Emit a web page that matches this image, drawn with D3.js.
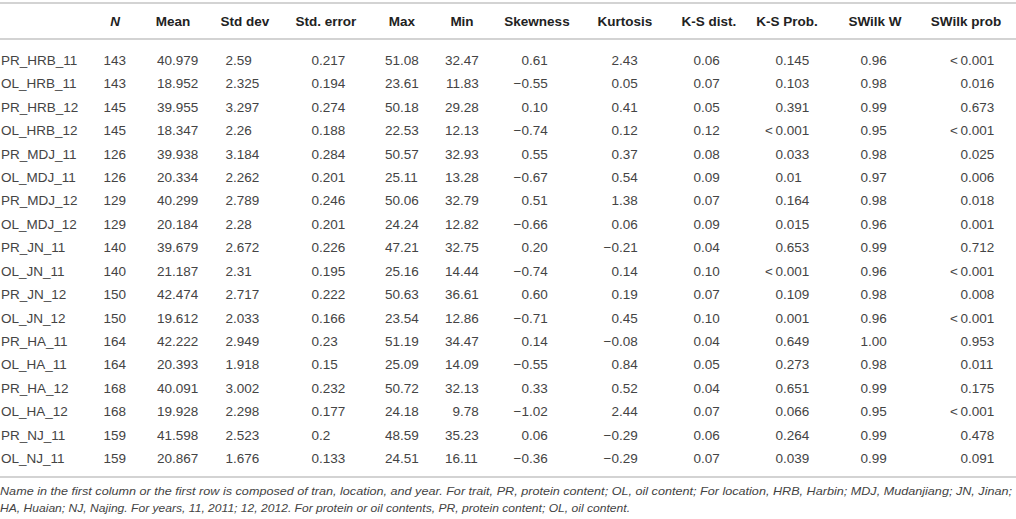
<!DOCTYPE html>
<html>
<head>
<meta charset="utf-8">
<script src="https://cdn.jsdelivr.net/npm/d3@7"></script>
<style>
  html, body { margin: 0; padding: 0; background: #fff; }
  svg { display: block; font-family: "Liberation Sans", Arial, Helvetica, sans-serif; }
</style>
</head>
<body>
<div id="chart"></div>
<script>
const MINUS = '\u2212';
const LT = '<\u20090';

const names = ['PR_HRB_11', 'OL_HRB_11', 'PR_HRB_12', 'OL_HRB_12', 'PR_MDJ_11', 'OL_MDJ_11',
  'PR_MDJ_12', 'OL_MDJ_12', 'PR_JN_11', 'OL_JN_11', 'PR_JN_12', 'OL_JN_12',
  'PR_HA_11', 'OL_HA_11', 'PR_HA_12', 'OL_HA_12', 'PR_NJ_11', 'OL_NJ_11'];

const headers = ['N', 'Mean', 'Std dev', 'Std. error', 'Max', 'Min', 'Skewness',
  'Kurtosis', 'K-S dist.', 'K-S Prob.', 'SWilk W', 'SWilk prob'];

const nObs = ['143', '143', '145', '145', '126', '126', '129', '129', '140', '140',
  '150', '150', '164', '164', '168', '168', '159', '159'];
const mean = ['40.979', '18.952', '39.955', '18.347', '39.938', '20.334', '40.299', '20.184',
  '39.679', '21.187', '42.474', '19.612', '42.222', '20.393', '40.091', '19.928', '41.598', '20.867'];
const stdDev = ['2.59', '2.325', '3.297', '2.26', '3.184', '2.262', '2.789', '2.28', '2.672',
  '2.31', '2.717', '2.033', '2.949', '1.918', '3.002', '2.298', '2.523', '1.676'];
const stdErr = ['0.217', '0.194', '0.274', '0.188', '0.284', '0.201', '0.246', '0.201', '0.226',
  '0.195', '0.222', '0.166', '0.23', '0.15', '0.232', '0.177', '0.2', '0.133'];
const maxVal = ['51.08', '23.61', '50.18', '22.53', '50.57', '25.11', '50.06', '24.24', '47.21',
  '25.16', '50.63', '23.54', '51.19', '25.09', '50.72', '24.18', '48.59', '24.51'];
const minVal = ['32.47', '11.83', '29.28', '12.13', '32.93', '13.28', '32.79', '12.82', '32.75',
  '14.44', '36.61', '12.86', '34.47', '14.09', '32.13', '9.78', '35.23', '16.11'];
const skewness = ['0.61', '-0.55', '0.10', '-0.74', '0.55', '-0.67', '0.51', '-0.66', '0.20',
  '-0.74', '0.60', '-0.71', '0.14', '-0.55', '0.33', '-1.02', '0.06', '-0.36'];
const kurtosis = ['2.43', '0.05', '0.41', '0.12', '0.37', '0.54', '1.38', '0.06', '-0.21',
  '0.14', '0.19', '0.45', '-0.08', '0.84', '0.52', '2.44', '-0.29', '-0.29'];
const ksDist = ['0.06', '0.07', '0.05', '0.12', '0.08', '0.09', '0.07', '0.09', '0.04',
  '0.10', '0.07', '0.10', '0.04', '0.05', '0.04', '0.07', '0.06', '0.07'];
const ksProb = ['0.145', '0.103', '0.391', '<0.001', '0.033', '0.01', '0.164', '0.015', '0.653',
  '<0.001', '0.109', '0.001', '0.649', '0.273', '0.651', '0.066', '0.264', '0.039'];
const swilkW = ['0.96', '0.98', '0.99', '0.95', '0.98', '0.97', '0.98', '0.96', '0.99',
  '0.96', '0.98', '0.96', '1.00', '0.98', '0.99', '0.95', '0.99', '0.99'];
const swilkProb = ['<0.001', '0.016', '0.673', '<0.001', '0.025', '0.006', '0.018', '0.001', '0.712',
  '<0.001', '0.008', '<0.001', '0.953', '0.011', '0.175', '<0.001', '0.478', '0.091'];

const captionLines = [
  'Name in the first column or the first row is composed of tran, location, and year. For trait, PR, protein content; OL, oil content; For location, HRB, Harbin; MDJ, Mudanjiang; JN, Jinan;',
  'HA, Huaian; NJ, Najing. For years, 11, 2011; 12, 2012. For protein or oil contents, PR, protein content; OL, oil content.'
];

const columns = [nObs, mean, stdDev, stdErr, maxVal, minVal, skewness, kurtosis,
  ksDist, ksProb, swilkW, swilkProb];

const width = 1016;
const height = 519;

// fix minus signs and the "<" prefix for display
const fmt = (s) => s.replace('-', MINUS).replace('<0', LT);

const svg = d3.select('#chart')
  .append('svg')
  .attr('width', width)
  .attr('height', height);

// column decimal-point positions, header centres
const xDec = d3.scaleOrdinal()
  .domain(headers)
  .range([126, 172, 233, 319, 400, 460, 529, 619, 701, 783, 868, 968]);
const xHead = d3.scaleOrdinal()
  .domain(headers)
  .range([115, 173, 245, 326, 402, 462, 537, 625, 709, 787, 875, 966]);

const y = d3.scalePoint()
  .domain(names)
  .range([60, 458]);

const ruleColor = '#c4c4c4';
[3, 39, 477].forEach((ly) => {
  svg.append('line')
    .attr('x1', 0)
    .attr('x2', width)
    .attr('y1', ly)
    .attr('y2', ly)
    .attr('stroke', ruleColor)
    .attr('stroke-width', 1.6);
});

// header
svg.append('g')
  .selectAll('text')
  .data(headers)
  .enter()
  .append('text')
  .text((d) => d)
  .attr('x', (d) => xHead(d))
  .attr('y', 26)
  .attr('text-anchor', 'middle')
  .attr('font-weight', 'bold')
  .attr('font-style', (d) => (d === 'N' ? 'italic' : 'normal'))
  .style('font-size', '13.5px')
  .attr('fill', '#222');

// row names
svg.append('g')
  .selectAll('text')
  .data(names)
  .enter()
  .append('text')
  .text((d) => d)
  .attr('x', 1)
  .attr('y', (d) => y(d) + 5)
  .style('font-size', '13.5px')
  .attr('fill', '#444');

// cells, aligned on the decimal point
const cells = [];
columns.forEach((col, ci) => {
  col.forEach((v, ri) => {
    cells.push({ head: headers[ci], name: names[ri], text: fmt(v) });
  });
});

svg.append('g')
  .selectAll('text')
  .data(cells)
  .enter()
  .append('text')
  .text((d) => d.text)
  .attr('y', (d) => y(d.name) + 5)
  .style('font-size', '13.5px')
  .attr('fill', '#444')
  .each(function (d) {
    const dot = d.text.indexOf('.');
    const idx = dot < 0 ? d.text.length : dot;
    const w = idx > 0 ? this.getSubStringLength(0, idx) : 0;
    d3.select(this).attr('x', xDec(d.head) - w);
  });

// caption
svg.append('g')
  .selectAll('text')
  .data(captionLines)
  .enter()
  .append('text')
  .text((d) => d)
  .attr('x', 0)
  .attr('y', (d, i) => 495 + i * 17)
  .attr('font-style', 'italic')
  .style('font-size', '11.5px')
  .attr('fill', '#444')
  .attr('textLength', (d, i) => (i === 0 ? 1012 : 630))
  .attr('lengthAdjust', 'spacingAndGlyphs');
</script>
</body>
</html>
